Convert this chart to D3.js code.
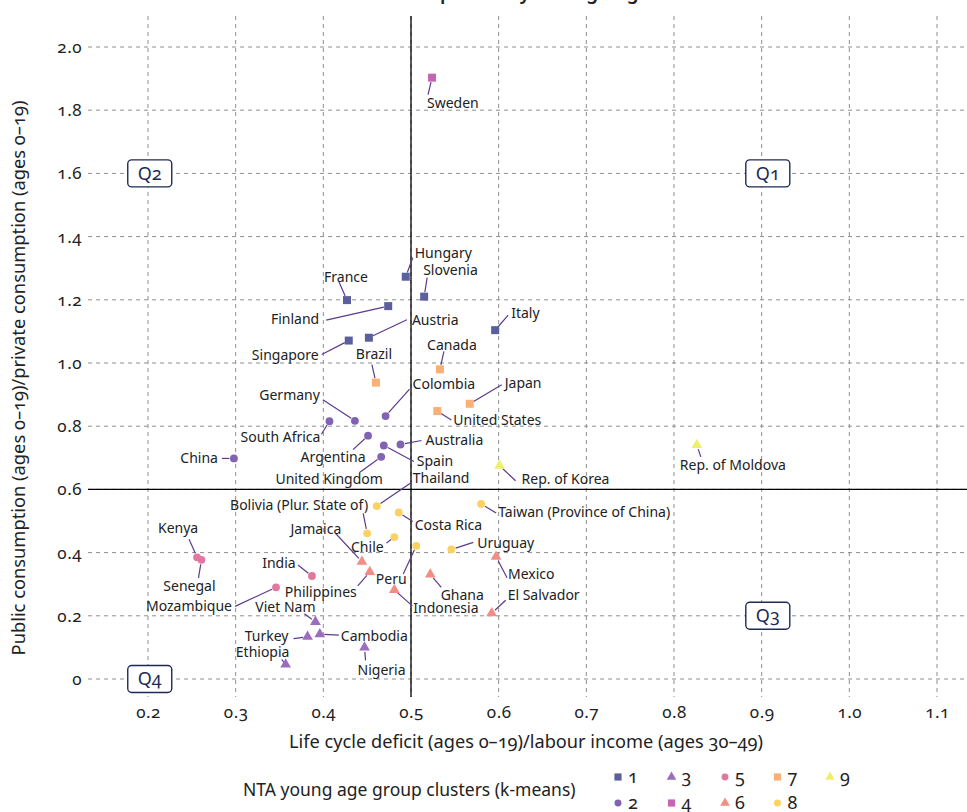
<!DOCTYPE html>
<html><head><meta charset="utf-8">
<script src="https://cdn.jsdelivr.net/npm/d3@7"></script>
<style>
html,body{margin:0;padding:0;background:#fff;}
svg{display:block;font-family:"Noto Sans",sans-serif;font-variant-numeric:oldstyle-nums;font-feature-settings:"onum" 1;}
</style></head>
<body>
<svg id="chart" width="967" height="812"></svg>
<script>
// ---- data ----
const countries = ["Hungary","Slovenia","France","Finland","Austria","Singapore","Italy","Sweden",
  "Canada","Brazil","Japan","United States",
  "Colombia","Germany","South Africa","Argentina","Australia","Spain","United Kingdom","China",
  "Rep. of Korea","Rep. of Moldova",
  "Thailand","Bolivia (Plur. State of)","Costa Rica","Chile","Peru","Uruguay","Taiwan (Province of China)",
  "Ghana","Indonesia","Mexico","El Salvador","Jamaica","Philippines",
  "Kenya","Senegal","India","Mozambique",
  "Viet Nam","Turkey","Cambodia","Ethiopia","Nigeria"];
const clusters = [1,1,1,1,1,1,1,4,
  7,7,7,7,
  2,2,2,2,2,2,2,2,
  9,9,
  8,8,8,8,8,8,8,
  6,6,6,6,6,6,
  5,5,5,5,
  3,3,3,3,3];
const lifeCycleDeficit = [0.494,0.515,0.427,0.474,0.452,0.429,0.596,0.524,
  0.533,0.460,0.567,0.530,
  0.471,0.436,0.407,0.451,0.488,0.469,0.466,0.298,
  0.601,0.826,
  0.461,0.450,0.486,0.481,0.506,0.546,0.580,
  0.522,0.481,0.597,0.592,0.444,0.453,
  0.256,0.261,0.387,0.346,
  0.391,0.382,0.396,0.357,0.447];
const publicPrivateRatio = [1.273,1.210,1.199,1.180,1.080,1.071,1.104,1.903,
  0.980,0.938,0.871,0.848,
  0.832,0.817,0.816,0.770,0.742,0.739,0.703,0.698,
  0.675,0.741,
  0.547,0.461,0.527,0.449,0.421,0.410,0.554,
  0.331,0.282,0.387,0.208,0.371,0.339,
  0.385,0.377,0.326,0.290,
  0.181,0.134,0.142,0.046,0.100];
const xTicks = [0.2,0.3,0.4,0.5,0.6,0.7,0.8,0.9,1.0,1.1];
const yTicks = [0,0.2,0.4,0.6,0.8,1.0,1.2,1.4,1.6,1.8,2.0];
const clusterIds = [1,2,3,4,5,6,7,8,9];
const quadrants = [{q:"Q1",x:0.907,y:1.6},{q:"Q2",x:0.202,y:1.6},{q:"Q3",x:0.907,y:0.2},{q:"Q4",x:0.202,y:0}];
const xRef = 0.5, yRef = 0.6;

// ---- label layout (pixel offsets from point): [dx, dy, anchor, leaderX, leaderY] ----
const labelLayout = {
  "Hungary":[9,-24,"start",7,-19], "Slovenia":[-1,-27,"start",3,-19], "France":[-1,-23,"middle",-8,-18],
  "Finland":[-69,13,"end",-62,14], "Austria":[43,-18,"start",38,-18], "Singapore":[-30,15,"end",-27,14],
  "Italy":[16,-17,"start",13,-15], "Sweden":[-5,25,"start",-4,17],
  "Canada":[12,-24,"middle",4,-18], "Brazil":[-2,-28,"middle",-4,-18], "Japan":[35,-21,"start",32,-19],
  "United States":[16,9,"start",14,9],
  "Colombia":[27,-32,"start",24,-27], "Germany":[-35,-26,"end",-32,-21], "South Africa":[-9,16,"end",-8,13],
  "Argentina":[-35,21,"middle",-15,14], "Australia":[25,-4,"start",21,-4], "Spain":[33,16,"start",30,16],
  "United Kingdom":[-52,22,"middle",-22,16], "China":[-16,-0.5,"end",-12,0],
  "Rep. of Korea":[22,13,"start",16,15], "Rep. of Moldova":[-17,20,"start",4,12],
  "Thailand":[36,-28,"start",35,-24], "Bolivia (Plur. State of)":[1,-28,"end",-4,-20],
  "Costa Rica":[16,13,"start",14,9], "Chile":[-27,10,"middle",-8,6], "Peru":[-25,33,"middle",-13,28],
  "Uruguay":[26,-6,"start",22,-7], "Taiwan (Province of China)":[17,8,"start",15,9],
  "Ghana":[32,21,"middle",11,13], "Indonesia":[19,18,"start",18,16], "Mexico":[12,17,"start",11,21],
  "El Salvador":[16,-18,"start",14,-13], "Jamaica":[-46,-33,"middle",-26,-28],
  "Philippines":[-49,20,"middle",-12,14],
  "Kenya":[-19,-29,"middle",-8,-18], "Senegal":[-12,26,"middle",-3,18], "India":[-33,-13,"middle",-14,-11],
  "Mozambique":[-87,19,"middle",-41,19],
  "Viet Nam":[-30,-15,"middle",-11,-8], "Turkey":[-41,-1,"middle",-14,2], "Cambodia":[21,2,"start",19,1],
  "Ethiopia":[-23,-12,"middle",-4,-5], "Nigeria":[17,23,"middle",1,13]
};

// ---- styles ----
const clusterColor = {1:"#5c5f9d",2:"#8063b2",3:"#9d6dbd",4:"#c466b3",5:"#e0799f",6:"#f28d84",7:"#f8b077",8:"#fbd160",9:"#eef06a"};
const clusterShape = {1:d3.symbolSquare,4:d3.symbolSquare,7:d3.symbolSquare,2:d3.symbolCircle,5:d3.symbolCircle,8:d3.symbolCircle,3:d3.symbolTriangle,6:d3.symbolTriangle,9:d3.symbolTriangle};
const shapeSize = s => s===d3.symbolSquare?64:(s===d3.symbolCircle?48:50);

const svg = d3.select("#chart");
const L=88, R=967, T=16, B=697;
const x = d3.scaleLinear().domain([0.2 - 60/876.7, 1.1 + 30/876.7]).range([L,R]);
const y = d3.scaleLinear().domain([-18/316, 2.0 + 31/316]).range([B,T]);

// title (mostly outside the visible area)
svg.append("text").attr("x",415).attr("y",-1).attr("font-size",19).attr("font-weight",600)
  .attr("fill","#222").text("Dependency and ageing");

// grid
const grid = svg.append("g");
grid.selectAll("line.v").data(xTicks).join("line")
  .attr("x1",d=>x(d)).attr("x2",d=>x(d)).attr("y1",T).attr("y2",B)
  .attr("stroke","#8f8f8f").attr("stroke-width",1).attr("stroke-dasharray","4,4");
grid.selectAll("line.h").data(yTicks).join("line")
  .attr("y1",d=>y(d)).attr("y2",d=>y(d)).attr("x1",L).attr("x2",R)
  .attr("stroke","#8f8f8f").attr("stroke-width",1).attr("stroke-dasharray","4,4");

// reference lines
svg.append("line").attr("x1",x(xRef)).attr("x2",x(xRef)).attr("y1",T).attr("y2",B).attr("stroke","#000").attr("stroke-width",1.3);
svg.append("line").attr("x1",L).attr("x2",R).attr("y1",y(yRef)).attr("y2",y(yRef)).attr("stroke","#000").attr("stroke-width",1.3);

// axes (via d3 axis, domain/ticks hidden)
const fmt = d => d===0 ? "0" : d3.format(".1f")(d);
const xAxis = svg.append("g").attr("transform",`translate(0,${B})`)
  .call(d3.axisBottom(x).tickValues(xTicks).tickFormat(fmt).tickSize(0).tickPadding(9));
const yAxis = svg.append("g").attr("transform",`translate(${L},0)`)
  .call(d3.axisLeft(y).tickValues(yTicks).tickFormat(fmt).tickSize(0).tickPadding(6));
[xAxis,yAxis].forEach(a=>{
  a.select(".domain").remove();
  a.selectAll("text").attr("font-family","Noto Sans").attr("font-size",17).attr("fill","#222")
    .attr("letter-spacing","0.5px").style("font-feature-settings","'onum' 1");
});

// axis titles
svg.append("text").attr("x",526).attr("y",748).attr("text-anchor","middle").attr("font-size",18.2).attr("fill","#222")
  .text("Life cycle deficit (ages 0–19)/labour income (ages 30–49)");
svg.append("text").attr("transform","translate(25,378) rotate(-90)").attr("text-anchor","middle").attr("font-size",18.3).attr("fill","#222")
  .text("Public consumption (ages 0–19)/private consumption (ages 0–19)");

// quadrant boxes
const qg = svg.append("g").selectAll("g").data(quadrants).join("g")
  .attr("transform",d=>`translate(${x(d.x)},${y(d.y)})`);
qg.append("rect").attr("x",-22).attr("y",-13.5).attr("width",44).attr("height",27).attr("rx",4)
  .attr("fill","#fff").attr("stroke","#1c2a58").attr("stroke-width",1.4);
qg.append("text").attr("text-anchor","middle").attr("dy","0.36em").attr("font-size",18).attr("fill","#1c2a58").text(d=>d.q);

// data rows
const rows = countries.map((c,i)=>({c, k:clusters[i], vx:lifeCycleDeficit[i], vy:publicPrivateRatio[i]}));

// leader lines
const lg = svg.append("g");
rows.forEach(r=>{
  const lay = labelLayout[r.c]; if(!lay) return;
  const px=x(r.vx), py=y(r.vy);
  const ex=px+lay[3], ey=py+lay[4];
  const len=Math.hypot(lay[3],lay[4]); const g=Math.min(4.5,len*0.4);
  lg.append("line").attr("x1",ex).attr("y1",ey).attr("x2",px+lay[3]/len*g).attr("y2",py+lay[4]/len*g)
    .attr("stroke","#5b3b8c").attr("stroke-width",1.2);
});

// points
svg.append("g").selectAll("path").data(rows).join("path")
  .attr("transform",d=>`translate(${x(d.vx)},${y(d.vy)})`)
  .attr("d",d=>d3.symbol(clusterShape[d.k], shapeSize(clusterShape[d.k]))())
  .attr("fill",d=>clusterColor[d.k]);

// labels
svg.append("g").selectAll("text").data(rows).join("text")
  .attr("x",d=>x(d.vx)+labelLayout[d.c][0]).attr("y",d=>y(d.vy)+labelLayout[d.c][1])
  .attr("dy","0.35em").attr("text-anchor",d=>labelLayout[d.c][2])
  .attr("font-size",14).attr("fill","#222").text(d=>d.c);

// legend
svg.append("text").attr("x",243).attr("y",796).attr("font-size",17.5).attr("fill","#222").text("NTA young age group clusters (k-means)");
const legX=[618,671.5,725,777.5,830], legY=[777,803];
const lgItems = svg.append("g").selectAll("g").data(clusterIds).join("g")
  .attr("transform",(d,i)=>`translate(${legX[Math.floor(i/2)]},${legY[i%2]})`);
lgItems.append("path").attr("d",d=>d3.symbol(clusterShape[d], shapeSize(clusterShape[d])*0.8)()).attr("fill",d=>clusterColor[d]);
lgItems.append("text").attr("x",10).attr("y",6).attr("font-size",18).attr("fill","#222").text(d=>d);
</script>
</body></html>
